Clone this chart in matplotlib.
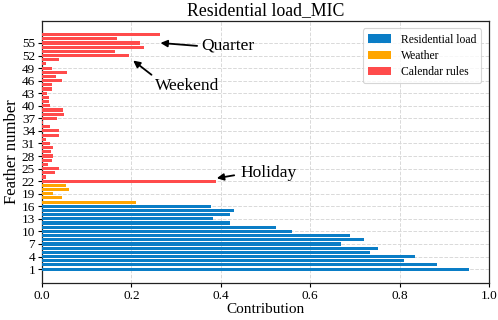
import matplotlib
matplotlib.use("Agg")
import matplotlib.pyplot as plt
import numpy as np

plt.rcParams['font.family'] = ['Liberation Serif', 'DejaVu Serif']

# Feature contributions (feature numbers 1..57)
load_features = list(range(1, 17))
load_values = [0.955, 0.883, 0.809, 0.834, 0.734, 0.752, 0.670, 0.721,
               0.688, 0.559, 0.523, 0.420, 0.383, 0.420, 0.430, 0.377]

weather_features = list(range(17, 22))
weather_values = [0.210, 0.045, 0.024, 0.060, 0.054]

calendar_features = list(range(22, 58))
calendar_values = [0.389, 0.009, 0.030, 0.039, 0.013, 0.022, 0.025, 0.021,
                   0.025, 0.019, 0.009, 0.039, 0.039, 0.019, 0.003, 0.034,
                   0.050, 0.048, 0.019, 0.016, 0.016, 0.011, 0.022, 0.023,
                   0.045, 0.032, 0.055, 0.023, 0.008, 0.037, 0.194, 0.163,
                   0.229, 0.219, 0.168, 0.265]

yticks = list(range(1, 57, 3))

c_load = '#0A7DC6'
c_weather = '#FFA500'
c_cal = '#FF4B4B'

fig = plt.figure(figsize=(4.98, 3.20), dpi=100)
ax = fig.add_axes([0.0843, 0.117, 0.8976, 0.817])

ax.barh(load_features, load_values, height=0.75, color=c_load, label='Residential load', zorder=3)
ax.barh(weather_features, weather_values, height=0.75, color=c_weather, label='Weather', zorder=3)
ax.barh(calendar_features, calendar_values, height=0.75, color=c_cal, label='Calendar rules', zorder=3)

ax.set_xlim(0, 1.0)
ax.set_yticks(yticks)
ax.set_xticks([0.0, 0.2, 0.4, 0.6, 0.8, 1.0])
ax.tick_params(axis='both', labelsize=9.5, length=3, width=0.8, pad=2)
ax.grid(True, linestyle='--', color='#d9d9d9', linewidth=0.7, zorder=0)
for s in ax.spines.values():
    s.set_color('#222222')
    s.set_linewidth(0.9)

ax.set_title('Residential load_MIC', fontsize=12.8, pad=4)
ax.set_xlabel('Contribution', fontsize=11, labelpad=1)
ax.set_ylabel('Feather number', fontsize=12, labelpad=1)

leg = ax.legend(loc='upper right', fontsize=8.4, frameon=True, fancybox=True,
                edgecolor='#cccccc', handlelength=2.0, borderpad=0.45,
                labelspacing=0.35, handletextpad=0.8, borderaxespad=0.4,
                bbox_to_anchor=(0.993, 0.99))
leg.get_frame().set_linewidth(0.8)

arrow = dict(arrowstyle='-|>', color='black', lw=1.3, mutation_scale=10,
             shrinkA=0, shrinkB=0)
ax.annotate('', xy=(0.265, 55.0), xytext=(0.347, 54.3), arrowprops=arrow)
ax.text(0.356, 54.4, 'Quarter', fontsize=12.5, va='center', ha='left')
ax.annotate('', xy=(0.204, 50.8), xytext=(0.245, 47.4), arrowprops=arrow)
ax.text(0.253, 44.8, 'Weekend', fontsize=12.5, va='center', ha='left')
ax.annotate('', xy=(0.391, 22.7), xytext=(0.430, 23.4), arrowprops=arrow)
ax.text(0.445, 23.9, 'Holiday', fontsize=12.5, va='center', ha='left')

fig.savefig('out.png', dpi=100)
